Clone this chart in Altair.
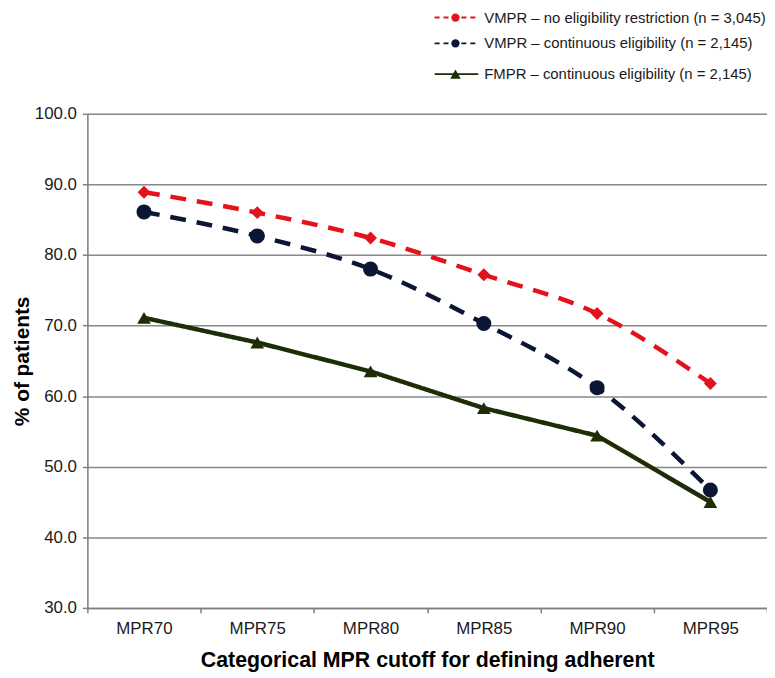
import altair as alt
import pandas as pd

categories = ["MPR70", "MPR75", "MPR80", "MPR85", "MPR90", "MPR95"]
vmpr_all = [88.9, 86.0, 82.4, 77.2, 71.7, 61.8]
vmpr_cont = [86.1, 82.7, 78.0, 70.3, 61.2, 46.7]
fmpr_cont = [71.1, 67.6, 63.5, 58.3, 54.4, 45.0]

series_names = [
    "VMPR \u2013 no eligibility restriction (n = 3,045)",
    "VMPR \u2013 continuous eligibility (n = 2,145)",
    "FMPR \u2013 continuous eligibility (n = 2,145)",
]
colors = ["#e3121b", "#0b1634", "#1d2d06"]
shapes = ["diamond", "circle", "triangle-up"]
sizes = [170, 230, 190]
dashes = [[16, 11], [16, 11], [1, 0]]
interps = ["monotone", "monotone", "linear"]

FONT = "Liberation Sans"
W, H = 685, 498

def frame(vals, name):
    return pd.DataFrame({
        "idx": [i + 0.5 for i in range(len(categories))],
        "cat": categories,
        "value": vals,
        "series": name,
    })

frames = [frame(v, n) for v, n in zip([vmpr_all, vmpr_cont, fmpr_cont], series_names)]

xscale = alt.Scale(domain=[0, 6], nice=False, zero=False)
yscale = alt.Scale(domain=[30, 100], nice=False, zero=False)

cat_list = "[" + ",".join("'" + c + "'" for c in categories) + "]"
label_expr = "datum.value < 6 ? " + cat_list + "[datum.value] : ''"

base = alt.Chart(frames[0]).mark_point(opacity=0).encode(
    x=alt.X("idx:Q", scale=xscale, axis=alt.Axis(
        values=[0, 1, 2, 3, 4, 5, 6], labelExpr=label_expr, labelOffset=57,
        labelOverlap=False, labelBound=False, labelFlush=False,
        labelFont=FONT, labelFontSize=17, labelColor="#1a1a1a", labelPadding=8,
        grid=False, tickSize=5, tickColor="#808080", domainColor="#808080",
        domainWidth=1.5, tickWidth=1.5,
        title="Categorical MPR cutoff for defining adherent", titleFont=FONT,
        titleFontSize=21.5, titleFontWeight="bold", titleColor="#000000",
        titleY=53, titleBaseline="middle")),
    y=alt.Y("value:Q", scale=yscale, axis=alt.Axis(
        values=[30, 40, 50, 60, 70, 80, 90, 100], format=".1f",
        title="% of patients", titleFont=FONT, titleFontSize=21,
        titleFontWeight="bold", titleColor="#000000",
        titleX=-65, titleBaseline="middle",
        labelFont=FONT, labelFontSize=17, labelColor="#1a1a1a",
        labelPadding=6, tickSize=5, tickColor="#808080",
        domainColor="#808080", domainWidth=1.5, tickWidth=1.5,
        grid=True, gridColor="#888888", gridWidth=1.5)),
)

layers = [base]
for df, c, s, sz, d, ip in zip(frames, colors, shapes, sizes, dashes, interps):
    line = alt.Chart(df).mark_line(color=c, strokeWidth=4.5, strokeDash=d, interpolate=ip).encode(
        x=alt.X("idx:Q", scale=xscale), y=alt.Y("value:Q", scale=yscale))
    pts = alt.Chart(df).mark_point(shape=s, filled=True, color=c, size=sz, opacity=1).encode(
        x=alt.X("idx:Q", scale=xscale), y=alt.Y("value:Q", scale=yscale))
    layers += [line, pts]

# Legend (top right, outside plot area)
leg_y = [-97, -71, -40]
for name, c, s, d, ly in zip(series_names, colors, shapes, dashes, leg_y):
    ldf = pd.DataFrame({"series": [name]})
    seg = alt.Chart(ldf).mark_rule(color=c, strokeWidth=2,
                                   strokeDash=[5, 4] if d[1] != 0 else [1, 0]).encode(
        x=alt.value(350), x2=alt.value(394), y=alt.value(ly))
    mk = alt.Chart(ldf).mark_point(shape="triangle-up" if s == "triangle-up" else "circle",
                                   filled=True, color=c,
                                   size=110 if s == "triangle-up" else 70,
                                   opacity=1).encode(
        x=alt.value(371), y=alt.value(ly))
    tx = alt.Chart(ldf).mark_text(align="left", baseline="middle", font=FONT,
                                  fontSize=15, color="#1a1a1a").encode(
        x=alt.value(400), y=alt.value(ly), text="series:N")
    layers += [seg, mk, tx]

chart = alt.layer(*layers).properties(
    width=W, height=H,
    autosize=alt.AutoSizeParams(type="none"),
    padding={"left": 80, "top": 104, "right": 0, "bottom": 68},
).configure_view(stroke=None).configure(background="white")

chart.save("out.html", embed_options={"renderer": "svg", "actions": False})
